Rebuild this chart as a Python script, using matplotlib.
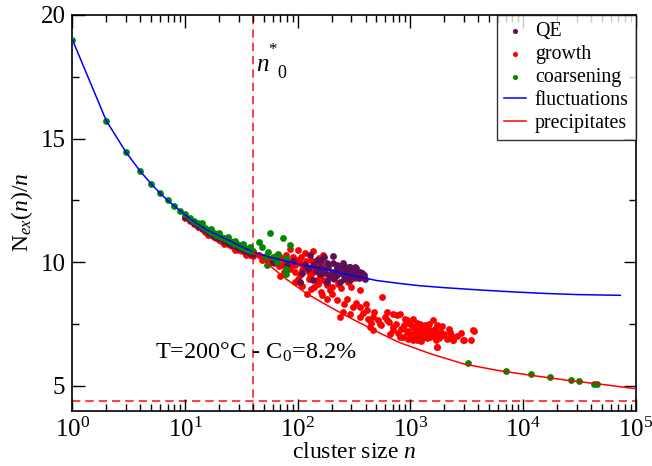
import matplotlib
matplotlib.use("Agg")
import matplotlib.pyplot as plt
from matplotlib.ticker import MultipleLocator, LogLocator

plt.rcParams['font.family'] = ['Liberation Serif', 'DejaVu Serif']
plt.rcParams['mathtext.fontset'] = 'custom'
plt.rcParams['mathtext.rm'] = 'Liberation Serif'
plt.rcParams['mathtext.it'] = 'Liberation Serif:italic'
plt.rcParams['mathtext.bf'] = 'Liberation Serif:bold'

# ---- model curves ----
fluct_n = [1, 2, 3, 4, 5, 6, 7, 8, 9, 10, 12, 15, 20, 25, 30, 40, 55, 70, 100,
           150, 200, 300, 500, 800, 1200, 2000, 4000, 8000, 15000, 30000, 73000]
fluct_y = [19.0, 15.72, 14.44, 13.68, 13.17, 12.79, 12.50, 12.28, 12.09, 11.92,
           11.65, 11.35, 11.07, 10.87, 10.68, 10.42, 10.22, 10.10, 9.93, 9.78,
           9.66, 9.47, 9.26, 9.14, 9.05, 8.97, 8.88, 8.80, 8.74, 8.69, 8.66]

precip_n = [40, 55, 80, 120, 200, 300, 500, 800, 1500, 3000, 6000, 12000,
            25000, 50000, 100000]
precip_y = [10.42, 9.90, 9.30, 8.73, 8.15, 7.72, 7.20, 6.75, 6.30, 5.88, 5.62,
            5.42, 5.22, 5.06, 4.88]

n0_star = 40
y_floor = 4.4

# ---- cluster data ----
qe_n = [10, 11, 12, 13, 14, 15, 16, 17, 18, 19, 20, 22, 24, 26, 28, 30, 32, 34,
        36, 38, 40, 60, 80, 90,
        128, 147, 181, 207, 221, 254, 272, 311, 333, 357, 395, 291, 237, 193,
        157, 137, 105, 124, 169, 200, 272, 221, 311, 181, 137, 291, 254, 207,
        157, 230, 260, 280, 300, 340, 370, 380, 320, 240, 350,
        110, 115, 145, 160, 175, 185, 215, 225, 245, 265, 285, 310, 330, 360,
        390, 210, 260, 295, 170, 190]
qe_y = [11.84, 11.71, 11.58, 11.47, 11.38, 11.29, 11.21, 11.14, 11.07, 11.01,
        10.96, 10.87, 10.78, 10.71, 10.64, 10.58, 10.53, 10.47, 10.42, 10.38,
        10.33, 10.00, 9.90, 10.05,
        10.28, 10.08, 9.95, 10.24, 9.81, 9.95, 9.68, 9.61, 9.61, 9.47, 9.34,
        9.27, 9.20, 9.41, 9.54, 9.27, 9.20, 9.74, 9.74, 9.61, 9.41, 9.47, 9.41,
        9.20, 9.88, 9.81, 9.54, 9.95, 9.81, 9.70, 9.85, 9.50, 9.70, 9.50, 9.55,
        9.40, 9.80, 9.60, 9.35,
        9.55, 9.90, 9.65, 10.10, 9.55, 9.80, 9.60, 9.90, 9.75, 9.60, 9.80, 9.55,
        9.75, 9.60, 9.50, 9.35, 9.30, 9.45, 10.20, 9.35]

growth_n = [10, 11, 12, 13, 14, 15, 16, 17, 18, 19, 20, 21, 22, 23, 24, 25, 26,
            27, 28, 29, 30, 32, 34, 36, 38, 40, 16, 22, 28, 35,
            85, 101, 116, 137, 169, 105, 91, 69.5, 79.6, 120, 137, 157, 169,
            181, 193, 163, 181, 120, 94.5, 128, 147, 221, 357, 105, 85,
            50, 55, 60, 62, 66, 72, 75, 88, 95, 110, 125, 140, 150, 160, 175,
            190, 210, 230, 250, 280, 300, 320, 240, 200, 150, 110, 130, 100,
            75, 70,
            45, 48, 52, 58, 64, 68, 78, 82, 90, 98, 108, 112, 118, 132, 145,
            155, 125, 140, 160, 180, 200, 220, 135, 95, 105,
            221, 272, 311, 254, 357, 409, 556, 469, 615, 755, 537, 705, 926,
            1062, 1217, 1394, 1600, 1710, 1960, 1710, 2400, 2950, 3620, 469,
            660, 809, 1062, 1303, 926, 1493, 1137, 615, 437, 237, 357, 2250,
            808, 928, 1062, 1218, 1450, 1720, 1780, 1950, 2405, 3000, 3420,
            3700, 1720, 1300, 993, 867, 1600, 1140, 1450,
            600, 650, 700, 750, 820, 880, 950, 1000, 1050, 1100, 1150, 1200,
            1250, 1300, 1350, 1400, 1500, 1550, 1650, 1800, 1850, 2000, 2100,
            2200, 2600, 2800, 900, 780, 700, 550, 480, 420, 380, 330, 290, 260,
            400, 450, 520, 1100, 1250, 1900, 2300, 1700, 960, 860, 1020, 1180,
            1380, 1600]
growth_y = [11.80, 11.66, 11.53, 11.42, 11.33, 11.24, 11.16, 11.09, 11.02,
            10.96, 10.90, 10.85, 10.80, 10.76, 10.72, 10.68, 10.64, 10.60,
            10.57, 10.54, 10.51, 10.45, 10.40, 10.35, 10.30, 10.26, 11.08,
            10.72, 10.48, 10.30,
            10.55, 10.51, 10.38, 10.46, 10.28, 9.95, 10.01, 10.22, 10.08, 9.81,
            9.68, 9.47, 9.27, 9.07, 8.87, 8.66, 8.53, 8.73, 9.20, 9.41, 9.27,
            9.81, 8.87, 9.47, 9.74,
            10.20, 10.10, 10.15, 9.95, 10.05, 9.90, 10.00, 9.85, 9.90, 9.70,
            9.60, 9.85, 9.60, 9.90, 9.70, 9.50, 9.30, 9.10, 9.55, 9.20, 9.00,
            9.35, 8.95, 9.00, 9.10, 9.05, 8.90, 9.30, 9.60, 9.45,
            10.30, 10.10, 10.25, 10.00, 10.25, 9.85, 10.30, 9.75, 10.20, 10.10,
            10.20, 9.85, 10.05, 10.10, 9.95, 10.15, 9.30, 9.00, 8.80, 9.20,
            8.70, 9.60, 9.55, 9.60, 9.15,
            8.46, 8.53, 8.19, 7.99, 8.19, 8.06, 8.60, 7.79, 7.99, 7.85, 7.52,
            7.38, 7.65, 7.38, 7.25, 7.18, 7.65, 7.11, 7.04, 6.57, 6.84, 6.84,
            7.25, 7.25, 7.11, 6.98, 6.84, 6.98, 7.18, 6.98, 7.04, 7.65, 7.38,
            7.79, 7.79, 7.18,
            7.92, 7.58, 7.72, 7.52, 7.52, 7.45, 7.18, 7.04, 6.84, 6.84, 6.84,
            7.21, 6.57, 7.04, 7.11, 6.98, 7.11, 6.84, 6.98,
            7.80, 7.60, 7.90, 7.50, 7.30, 7.45, 7.20, 7.50, 7.10, 7.30, 7.55,
            7.00, 7.35, 7.15, 7.45, 6.95, 7.25, 7.05, 7.30, 6.95, 7.20, 7.10,
            6.90, 7.30, 7.00, 7.15, 7.70, 7.15, 7.25, 7.45, 8.00, 7.70, 7.95,
            8.35, 7.90, 8.30, 8.30, 7.55, 7.65, 6.90, 6.80, 7.40, 7.05, 6.85,
            6.90, 7.35, 7.00, 7.20, 7.30, 7.00]

coars_n = [1, 2, 3, 4, 5, 6, 7, 8, 9, 10, 11, 12, 13, 14, 15, 16, 17, 18, 19,
           20, 21, 22, 23, 24, 25, 26, 27, 28, 29, 30, 31, 32, 33, 34, 35, 36,
           37, 38, 39, 40, 14, 17, 20, 24, 28, 33, 38,
           56.6, 74.5, 45.3, 85.3, 54.8, 67.1, 78.5, 51.2, 65, 53, 79, 78.5,
           47.9, 60.7,
           3266, 7060, 11770, 17340, 26800, 31400, 43000, 45600]
coars_y = [19.0, 15.72, 14.44, 13.68, 13.17, 12.79, 12.50, 12.28, 12.09, 11.94,
           11.80, 11.68, 11.57, 11.47, 11.38, 11.30, 11.23, 11.17, 11.11, 11.06,
           11.01, 10.97, 10.93, 10.89, 10.86, 10.82, 10.78, 10.75, 10.72, 10.69,
           10.66, 10.63, 10.61, 10.58, 10.55, 10.53, 10.50, 10.48, 10.46, 10.44,
           11.58, 11.34, 11.18, 11.00, 10.86, 10.72, 10.60,
           11.16, 10.96, 10.80, 10.69, 10.42, 10.35, 10.15, 10.22, 10.01, 9.88,
           9.74, 9.51, 10.62, 10.22,
           5.92, 5.60, 5.47, 5.36, 5.22, 5.19, 5.09, 5.09]

# ---- figure ----
fig = plt.figure(figsize=(6.52, 4.66), dpi=100)
ax = fig.add_axes([0.111, 0.119, 0.864, 0.849])

dot = 24
ax.scatter(qe_n, qe_y, s=dot, color='#5e0f55', linewidths=0, label='QE', zorder=3)
ax.scatter(growth_n, growth_y, s=dot, color='#ff0000', linewidths=0, label='growth', zorder=2.5)
ax.scatter(coars_n, coars_y, s=dot, color='#008800', linewidths=0, label='coarsening', zorder=3.5)
ax.plot(fluct_n, fluct_y, color='#0000ff', lw=1.1, label='fluctuations', zorder=5)
ax.plot(precip_n, precip_y, color='#ff0000', lw=1.1, label='precipitates', zorder=5)

ax.axvline(n0_star, color='#ff2020', lw=1.2, ls=(0, (5, 3)), zorder=1)
ax.axhline(y_floor, color='#ff2020', lw=1.2, ls=(0, (5, 3)), zorder=1)

ax.set_xscale('log')
ax.set_xlim(1, 1e5)
ax.set_ylim(4, 20)
ax.set_yticks([5, 10, 15, 20])
ax.yaxis.set_minor_locator(MultipleLocator(2.5))
ax.xaxis.set_major_locator(LogLocator(base=10, numticks=10))
ax.xaxis.set_minor_locator(LogLocator(base=10, subs=range(2, 10), numticks=20))

ax.tick_params(which='both', direction='in', top=True, right=True,
               labelsize=18, width=1.0)
ax.tick_params(which='major', length=9, pad=5)
ax.tick_params(which='minor', length=5)
for s in ax.spines.values():
    s.set_linewidth(1.2)

ax.set_xlabel(r'cluster size $n$', fontsize=17, labelpad=0)
ax.set_ylabel(r'$\mathrm{N}_{ex}(n)/n$', fontsize=17, labelpad=4)

# n0* annotation next to the dashed marker
ax.text(43, 17.98, r'$n$', fontsize=18, va='center', ha='left')
ax.text(60, 18.65, r'$*$', fontsize=12, va='center', ha='center')
ax.text(72, 17.64, r'$\mathit{0}$', fontsize=13, va='center', ha='center')
ax.text(5.4, 6.36, r'T=200°C - C$_0$=8.2%', fontsize=17.5, va='center')

leg = ax.legend(loc='upper right', fontsize=14.3, frameon=True, fancybox=False,
                borderaxespad=0, handlelength=1.1, handletextpad=0.45,
                labelspacing=0.2, borderpad=0.35, markerscale=0.75)
leg.get_frame().set_edgecolor('black')
leg.get_frame().set_linewidth(1.0)

fig.savefig('out.png', dpi=100)
